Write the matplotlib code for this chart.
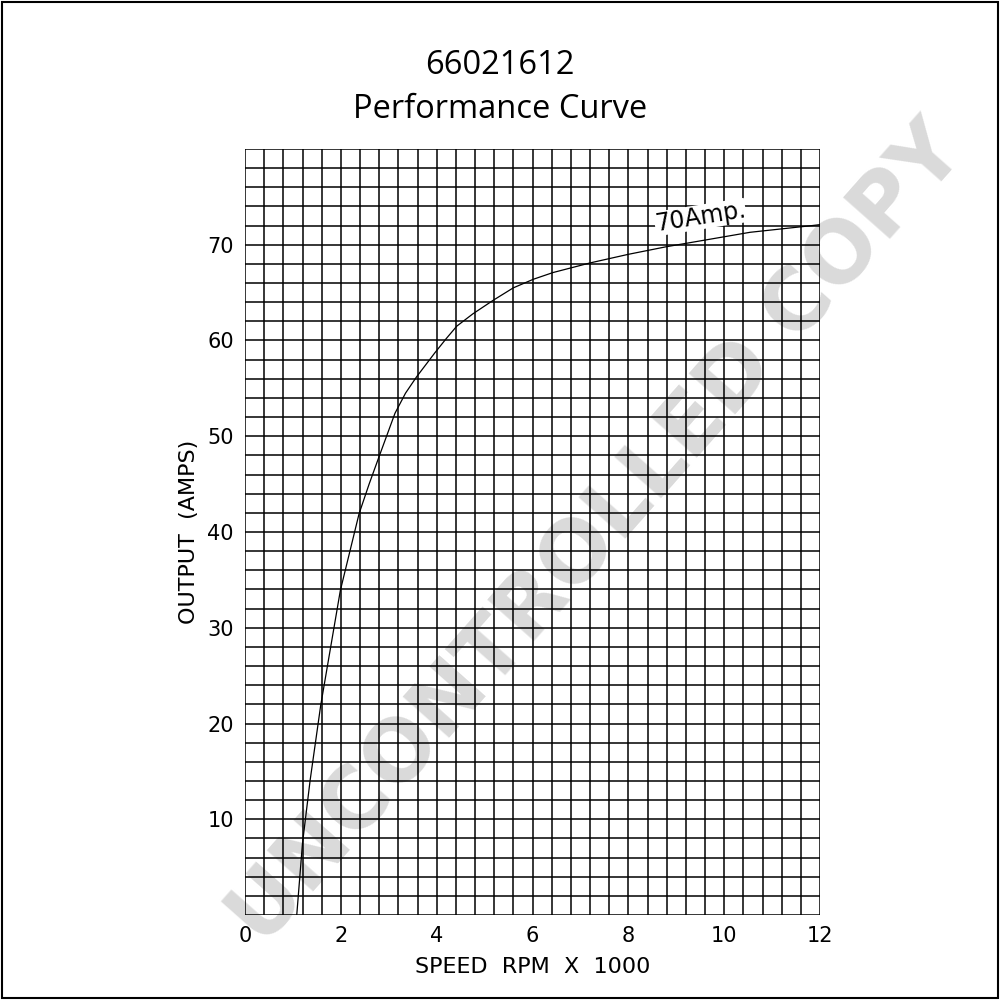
#Curva de rendimiento del alternador 66021612
import matplotlib
matplotlib.use("Agg")
import matplotlib.pyplot as plt
from matplotlib.patches import Rectangle

#Datos (velocidad en miles de rpm, salida en amperios)
rpm = [1.08, 1.2, 1.36, 1.58, 1.99, 2.38, 2.59, 2.8, 3.13, 3.35, 3.58, 3.96,
       4.2, 4.42, 4.76, 5.0, 5.18, 5.6, 6.02, 6.43, 7.2, 8.0, 8.8, 9.15,
       10.54, 11.83, 12.0]
amps = [0.0, 7.5, 14.1, 21.9, 33.9, 41.9, 45.0, 47.9, 52.4, 54.5, 56.2, 58.7,
        60.2, 61.5, 62.8, 63.6, 64.2, 65.5, 66.4, 67.1, 68.1, 69.0, 69.8, 70.1,
        71.3, 72.0, 72.1]

x_ticks = [0, 2, 4, 6, 8, 10, 12]
y_ticks = [10, 20, 30, 40, 50, 60, 70]

fig = plt.figure(figsize=(10, 10), dpi=100)
ax = fig.add_axes([0.245, 0.085, 0.575, 0.766])
ax.set_facecolor("none")

#marca de agua
ax.text(0.598, 0.465, "UNCONTROLLED COPY", rotation=48.5, color="#dadada",
        fontsize=61, fontweight="bold", family="DejaVu Sans",
        ha="center", va="center", transform=fig.transFigure,
        zorder=0, clip_on=False)

#cuadricula
for i in range(31):
    ax.axvline(i * 0.4, color="black", lw=1.1, zorder=1)
for j in range(41):
    ax.axhline(j * 2, color="black", lw=1.1, zorder=1)

ax.plot(rpm, amps, color="black", lw=0.9, zorder=3)

ax.text(9.5, 70.9, "70Amp.", rotation=9, fontsize=17, family="DejaVu Sans",
        ha="center", va="bottom", zorder=4,
        bbox=dict(facecolor="white", edgecolor="none", pad=0.1))

ax.set_xlim(0, 12)
ax.set_ylim(0, 80)
ax.set_xticks(x_ticks)
ax.set_yticks(y_ticks)
ax.tick_params(length=0, labelsize=15, pad=8)
for s in ax.spines.values():
    s.set_visible(False)

ax.set_xlabel("SPEED  RPM  X  1000", fontsize=16, labelpad=8)
ax.set_ylabel("OUTPUT  (AMPS)", fontsize=16, labelpad=6)

fig.text(0.5, 0.934, "66021612", fontsize=23.5, family="Open Sans",
         ha="center", va="center")
fig.text(0.5, 0.890, "Performance Curve", fontsize=23.5, family="Open Sans",
         ha="center", va="center")

#borde de la pagina
fig.patches.append(Rectangle((0.002, 0.002), 0.996, 0.996, transform=fig.transFigure,
                             fill=False, edgecolor="black", lw=1.5))

fig.savefig("out.png", dpi=100)
